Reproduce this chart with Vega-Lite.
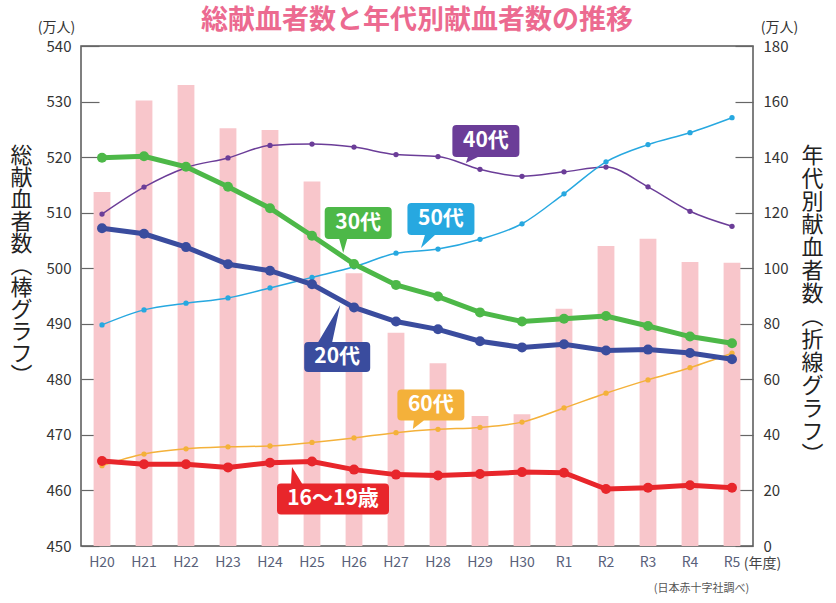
{
  "$schema": "https://vega.github.io/schema/vega-lite/v6.json",
  "width": 672,
  "height": 500,
  "autosize": {"type": "none"},
  "padding": {"left": 81, "top": 46, "right": 83, "bottom": 57},
  "config": {
    "font": "Noto Sans CJK JP",
    "view": {"stroke": "#555555", "strokeWidth": 1.5},
    "axis": {"grid": false}
  },
  "title": {
    "text": "総献血者数と年代別献血者数の推移",
    "fontSize": 27,
    "fontWeight": "bold",
    "color": "#ec6a90",
    "anchor": "middle",
    "frame": "group",
    "offset": 0,
    "dy": 15
  },
  "datasets": {
    "totals": [
      {"year": "H20", "total": 513.7},
      {"year": "H21", "total": 530.2},
      {"year": "H22", "total": 533.0},
      {"year": "H23", "total": 525.2},
      {"year": "H24", "total": 524.9},
      {"year": "H25", "total": 515.6},
      {"year": "H26", "total": 499.1},
      {"year": "H27", "total": 488.4},
      {"year": "H28", "total": 482.9},
      {"year": "H29", "total": 473.4},
      {"year": "H30", "total": 473.7},
      {"year": "R1", "total": 492.7},
      {"year": "R2", "total": 504.0},
      {"year": "R3", "total": 505.3},
      {"year": "R4", "total": 501.1},
      {"year": "R5", "total": 501.0}
    ],
    "ages": [
      {"year": "H20", "16～19歳": 30.6, "20代": 114.4, "30代": 139.8, "40代": 119.5, "50代": 79.6, "60代": 28.9},
      {"year": "H21", "16～19歳": 29.4, "20代": 112.4, "30代": 140.3, "40代": 129.2, "50代": 85.0, "60代": 33.1},
      {"year": "H22", "16～19歳": 29.4, "20代": 107.6, "30代": 136.5, "40代": 136.2, "50代": 87.4, "60代": 35.0},
      {"year": "H23", "16～19歳": 28.3, "20代": 101.4, "30代": 129.3, "40代": 139.7, "50代": 89.3, "60代": 35.7},
      {"year": "H24", "16～19歳": 30.0, "20代": 99.1, "30代": 121.6, "40代": 144.2, "50代": 92.9, "60代": 36.0},
      {"year": "H25", "16～19歳": 30.4, "20代": 94.2, "30代": 111.7, "40代": 144.7, "50代": 96.7, "60代": 37.3},
      {"year": "H26", "16～19歳": 27.5, "20代": 85.9, "30代": 101.5, "40代": 143.6, "50代": 100.5, "60代": 38.9},
      {"year": "H27", "16～19歳": 25.7, "20代": 80.8, "30代": 94.0, "40代": 140.9, "50代": 105.4, "60代": 40.8},
      {"year": "H28", "16～19歳": 25.4, "20代": 78.0, "30代": 89.8, "40代": 140.2, "50代": 106.9, "60代": 42.0},
      {"year": "H29", "16～19歳": 25.9, "20代": 73.7, "30代": 84.1, "40代": 135.6, "50代": 110.4, "60代": 42.7},
      {"year": "H30", "16～19歳": 26.6, "20代": 71.5, "30代": 80.8, "40代": 133.1, "50代": 116.0, "60代": 44.6},
      {"year": "R1", "16～19歳": 26.4, "20代": 72.6, "30代": 81.8, "40代": 134.7, "50代": 126.8, "60代": 49.7},
      {"year": "R2", "16～19歳": 20.5, "20代": 70.4, "30代": 82.8, "40代": 136.4, "50代": 138.3, "60代": 55.0},
      {"year": "R3", "16～19歳": 21.0, "20代": 70.7, "30代": 79.2, "40代": 129.3, "50代": 144.5, "60代": 59.8},
      {"year": "R4", "16～19歳": 21.9, "20代": 69.5, "30代": 75.4, "40代": 120.5, "50代": 148.8, "60代": 64.2},
      {"year": "R5", "16～19歳": 21.0, "20代": 67.2, "30代": 73.0, "40代": 115.1, "50代": 154.2, "60代": 69.4}
    ],
    "labels": [
      {"series": "40代", "xi": 9.64, "yv": 145.8},
      {"series": "30代", "xi": 6.6, "yv": 116.3},
      {"series": "50代", "xi": 8.57, "yv": 117.7},
      {"series": "20代", "xi": 6.1, "yv": 68.0},
      {"series": "60代", "xi": 8.33, "yv": 50.8},
      {"series": "16～19歳", "xi": 6.0, "yv": 16.9}
    ]
  },
  "resolve": {"scale": {"x": "independent", "y": "independent"}},
  "layer": [
    {
      "data": {"name": "totals"},
      "mark": {"type": "bar", "color": "#f8c6cb"},
      "encoding": {
        "x": {
          "field": "year", "type": "nominal", "sort": null,
          "scale": {"type": "band", "paddingInner": 0.6, "paddingOuter": 0.3},
          "axis": {
            "orient": "bottom",
            "title": null, "ticks": false, "domain": false, "labelAngle": 0,
            "labelFontSize": 14, "labelColor": "#59617a", "labelPadding": 9
          }
        },
        "y": {
          "field": "total", "type": "quantitative",
          "scale": {"domain": [450, 540], "zero": false, "nice": false},
          "axis": {
            "orient": "left",
            "values": [450, 460, 470, 480, 490, 500, 510, 520, 530, 540],
            "domain": false, "tickSize": -18, "tickColor": "#666666", "tickWidth": 1.2,
            "labelPadding": 28, "labelFontSize": 15, "labelColor": "#333333",
            "title": ["総", "献", "血", "者", "数", "︵", "棒", "グ", "ラ", "フ", "︶"],
            "titleAngle": 0, "titleX": -60, "titleY": 99,
            "titleAlign": "center", "titleBaseline": "top",
            "titleFontSize": 22, "titleLineHeight": 22, "titleFontWeight": "normal",
            "titleColor": "#222222"
          }
        },
        "y2": {"datum": 450}
      }
    },
    {
      "data": {"name": "ages"},
      "transform": [
        {"fold": ["16～19歳", "20代", "30代", "40代", "50代", "60代"], "as": ["series", "value"]},
        {"filter": {"field": "series", "oneOf": ["40代", "50代", "60代"]}}
      ],
      "mark": {"type": "line", "strokeWidth": 1.5, "interpolate": "monotone", "point": {"filled": true, "size": 28}},
      "encoding": {
        "x": {
          "field": "year", "type": "nominal", "sort": null,
          "scale": {"type": "band", "paddingInner": 0.6, "paddingOuter": 0.3},
          "axis": {
            "orient": "bottom",
            "labels": false, "ticks": false, "domain": false,
            "title": "(年度)", "titleX": 681, "titleY": 17,
            "titleAlign": "center", "titleBaseline": "middle",
            "titleFontSize": 14, "titleFontWeight": "normal", "titleColor": "#444444"
          }
        },
        "y": {
          "field": "value", "type": "quantitative",
          "scale": {"domain": [0, 180], "nice": false},
          "axis": {
            "orient": "right",
            "values": [0, 20, 40, 60, 80, 100, 120, 140, 160, 180],
            "domain": false, "tickSize": -18, "tickColor": "#666666", "tickWidth": 1.2,
            "labelPadding": 28, "labelFontSize": 15, "labelColor": "#333333",
            "title": ["年", "代", "別", "献", "血", "者", "数", "︵", "折", "線", "グ", "ラ", "フ", "︶"],
            "titleAngle": 0, "titleX": 59, "titleY": 99,
            "titleAlign": "center", "titleBaseline": "top",
            "titleFontSize": 22, "titleLineHeight": 23, "titleFontWeight": "normal",
            "titleColor": "#222222"
          }
        },
        "color": {
          "field": "series", "type": "nominal", "legend": null,
          "scale": {
            "domain": ["16～19歳", "20代", "30代", "40代", "50代", "60代"],
            "range": ["#e8262b", "#3a4c9e", "#4db848", "#6b3d98", "#27a8e0", "#f4b13a"]
          }
        }
      }
    },
    {
      "data": {"name": "ages"},
      "transform": [
        {"fold": ["16～19歳", "20代", "30代", "40代", "50代", "60代"], "as": ["series", "value"]},
        {"filter": {"field": "series", "oneOf": ["16～19歳", "20代", "30代"]}}
      ],
      "mark": {"type": "line", "strokeWidth": 5, "point": {"filled": true, "size": 100}},
      "encoding": {
        "x": {
          "field": "year", "type": "nominal", "sort": null,
          "scale": {"type": "band", "paddingInner": 0.6, "paddingOuter": 0.3},
          "axis": {
            "orient": "bottom",
            "labels": false, "ticks": false, "domain": false,
            "title": "(日本赤十字社調べ)", "titleX": 620, "titleY": 42,
            "titleAlign": "center", "titleBaseline": "middle",
            "titleFontSize": 11, "titleFontWeight": "normal", "titleColor": "#555555"
          }
        },
        "y": {
          "field": "value", "type": "quantitative",
          "scale": {"domain": [0, 180], "nice": false},
          "axis": {
            "orient": "left", "labels": false, "ticks": false, "domain": false,
            "title": "(万人)", "titleAngle": 0, "titleX": -25, "titleY": -19,
            "titleAlign": "center", "titleBaseline": "middle",
            "titleFontSize": 14, "titleFontWeight": "normal", "titleColor": "#333333"
          }
        },
        "color": {"field": "series", "type": "nominal", "legend": null}
      }
    },
    {
      "data": {"name": "labels"},
      "mark": {"type": "point", "filled": true, "size": 400, "opacity": 1},
      "encoding": {
        "x": {"field": "xi", "type": "quantitative", "scale": {"domain": [0, 16], "nice": false, "zero": false}, "axis": null},
        "y": {
          "field": "yv", "type": "quantitative",
          "scale": {"domain": [0, 180], "nice": false},
          "axis": {
            "orient": "right", "labels": false, "ticks": false, "domain": false,
            "title": "(万人)", "titleAngle": 0, "titleX": 26, "titleY": -19,
            "titleAlign": "center", "titleBaseline": "middle",
            "titleFontSize": 14, "titleFontWeight": "normal", "titleColor": "#333333"
          }
        },
        "color": {"field": "series", "type": "nominal", "legend": null},
        "shape": {
          "field": "series", "type": "nominal", "legend": null,
          "scale": {
            "domain": ["40代", "30代", "50代", "20代", "60代", "16～19歳"],
            "range": [
              "M -2.95 -1.6 L 2.95 -1.6 Q 3.35 -1.6 3.35 -1.2 L 3.35 1.2 Q 3.35 1.6 2.95 1.6 L -0.8 1.6 L -2.0 2.2 L -1.8 1.6 L -2.95 1.6 Q -3.35 1.6 -3.35 1.2 L -3.35 -1.2 Q -3.35 -1.6 -2.95 -1.6 Z",
              "M -2.95 -1.6 L 2.95 -1.6 Q 3.35 -1.6 3.35 -1.2 L 3.35 1.2 Q 3.35 1.6 2.95 1.6 L -1.1 1.6 L -1.5 3.0 L -1.9 1.6 L -2.95 1.6 Q -3.35 1.6 -3.35 1.2 L -3.35 -1.2 Q -3.35 -1.6 -2.95 -1.6 Z",
              "M -2.95 -1.6 L 2.95 -1.6 Q 3.35 -1.6 3.35 -1.2 L 3.35 1.2 Q 3.35 1.6 2.95 1.6 L -0.6 1.6 L -2.0 2.9 L -1.6 1.6 L -2.95 1.6 Q -3.35 1.6 -3.35 1.2 L -3.35 -1.2 Q -3.35 -1.6 -2.95 -1.6 Z",
              "M -2.9 -1.5 L -1.9 -1.5 L 0.3 -5.2 L -0.5 -1.5 L 2.9 -1.5 Q 3.3 -1.5 3.3 -1.1 L 3.3 1.1 Q 3.3 1.5 2.9 1.5 L -2.9 1.5 Q -3.3 1.5 -3.3 1.1 L -3.3 -1.1 Q -3.3 -1.5 -2.9 -1.5 Z",
              "M -2.95 -1.55 L 2.95 -1.55 Q 3.35 -1.55 3.35 -1.15 L 3.35 1.15 Q 3.35 1.55 2.95 1.55 L -0.7 1.55 L -1.8 2.4 L -1.7 1.55 L -2.95 1.55 Q -3.35 1.55 -3.35 1.15 L -3.35 -1.15 Q -3.35 -1.55 -2.95 -1.55 Z",
              "M -5.2 -1.55 L -4.2 -1.55 L -4.1 -3.2 L -3.1 -1.55 L 5.2 -1.55 Q 5.6 -1.55 5.6 -1.15 L 5.6 1.15 Q 5.6 1.55 5.2 1.55 L -5.2 1.55 Q -5.6 1.55 -5.6 1.15 L -5.6 -1.15 Q -5.6 -1.55 -5.2 -1.55 Z"
            ]
          }
        }
      }
    },
    {
      "data": {"name": "labels"},
      "mark": {"type": "text", "fontSize": 21, "fontWeight": "bold", "color": "#ffffff", "align": "center", "baseline": "middle"},
      "encoding": {
        "x": {"field": "xi", "type": "quantitative", "scale": {"domain": [0, 16], "nice": false, "zero": false}, "axis": null},
        "y": {"field": "yv", "type": "quantitative", "scale": {"domain": [0, 180], "nice": false}, "axis": null},
        "text": {"field": "series"}
      }
    }
  ]
}
